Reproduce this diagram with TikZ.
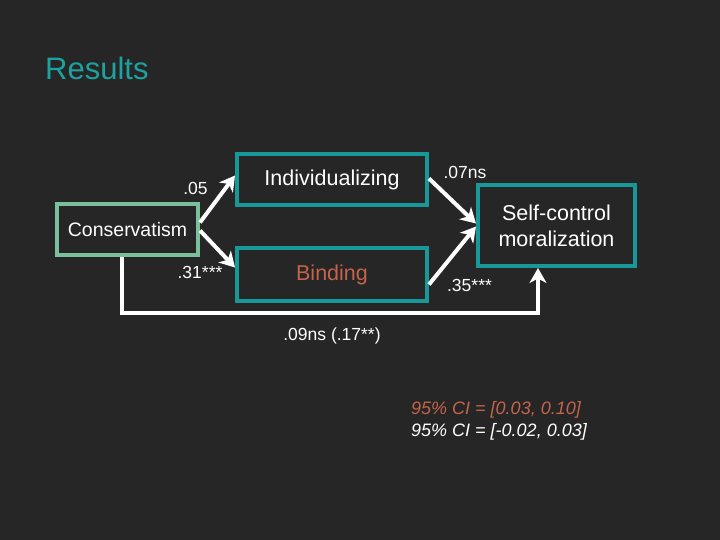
\documentclass[tikz,border=0pt]{standalone}
\usepackage{fontspec}
\setmainfont{Liberation Sans}
\usetikzlibrary{arrows.meta}
\definecolor{fons}{RGB}{38,38,38}
\definecolor{blauverd}{RGB}{24,152,152}
\definecolor{titol}{RGB}{30,162,160}
\definecolor{verd}{RGB}{122,193,155}
\definecolor{vermell}{RGB}{196,100,74}
\begin{document}
\begin{tikzpicture}[x=1pt,y=-1pt,
        caixa/.style={draw=blauverd, line width=4pt, text=white, align=center,
                      inner sep=0pt, font=\fontsize{21.5}{26}\selectfont},
        fletxa/.style={white, line width=4pt, -{Stealth[length=15pt,width=17pt,inset=4.5pt]}},
        coef/.style={text=white, inner sep=0pt, font=\fontsize{17.5}{20}\selectfont}]
        % Fons i marges
        \fill[fons] (0,0) rectangle (720,540);
        \node[anchor=west, text=titol, inner sep=0pt, font=\fontsize{31}{36}\selectfont] (titol) at (45,68) {Results};
        % Caixes
        \node[caixa, draw=verd, minimum width=141pt, minimum height=51pt,
              font=\fontsize{19.5}{24}\selectfont] (cons) at (127.5,229.5) {Conservatism};
        \node[caixa, minimum width=190pt, minimum height=51pt] (indiv) at (332,179.5) {Individualizing};
        \node[caixa, minimum width=190pt, minimum height=53pt, text=vermell] (bind) at (332,274.5) {Binding};
        \node[caixa, minimum width=157pt, minimum height=81pt] (self) at (556.5,225.5) {Self-control\\moralization};
        % Fletxes
        \draw[fletxa] ([yshift=7pt]cons.east) -- ([yshift=4pt]indiv.west);
        \draw[fletxa] ([yshift=-1pt]cons.east) -- ([yshift=7pt]bind.west);
        \draw[fletxa] ([yshift=1pt]indiv.east) -- ([yshift=2pt]self.west);
        \draw[fletxa] ([yshift=-10pt]bind.east) -- ([yshift=-1pt]self.west);
        \draw[fletxa] ([xshift=-5.5pt]cons.south) -- ++(0,56) -| ([xshift=-18.5pt]self.south);
        % Coeficients
        \node[coef] (c05) at (195.5,188) {.05};
        \node[coef] (c31) at (200,272) {.31***};
        \node[coef] (c07) at (465,172) {.07ns};
        \node[coef] (c35) at (469.5,285) {.35***};
        \node[coef] (c09) at (332,336) {.09ns (.17**)};
        \node[coef, anchor=west, text=vermell, font=\fontsize{18}{20}\selectfont\itshape] (ci1) at (411,410) {95\% CI = [0.03, 0.10]};
        \node[coef, anchor=west, font=\fontsize{18}{20}\selectfont\itshape] (ci2) at (411,432) {95\% CI = [-0.02, 0.03]};
    \end{tikzpicture}
\end{document}
